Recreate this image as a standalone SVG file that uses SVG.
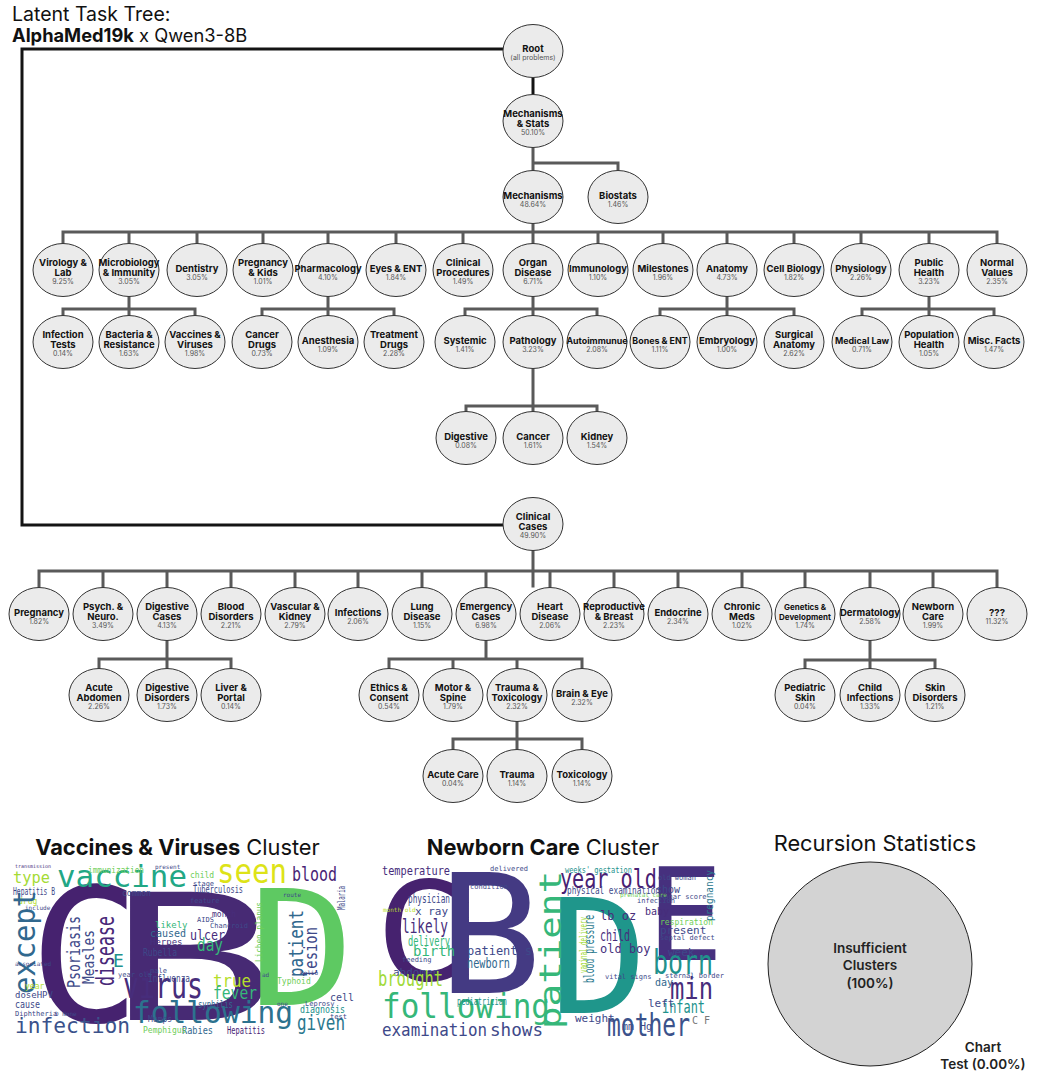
<svg xmlns="http://www.w3.org/2000/svg" width="1038" height="1077" viewBox="0 0 1038 1077">
<style>
.n ellipse{fill:#ebebeb;stroke:#333;stroke-width:1}
.n text{font-family:Inter,"Liberation Sans",sans-serif;text-anchor:middle}
.l{font-size:9.5px;font-weight:700;fill:#111}
.s{font-size:8px}
.t{font-size:8.9px}
.p{font-size:7px;font-weight:400;fill:#555}
.k{fill:none;stroke:#141414;stroke-width:3}
.c{fill:none;stroke:#5a5a5a;stroke-width:3}
.ttl{font-family:Inter,"Liberation Sans",sans-serif;fill:#111}
.w text{font-family:"DejaVu Sans Mono",monospace}
.pie text{font-family:Inter,"Liberation Sans",sans-serif;font-weight:600;font-size:13.5px;fill:#222;text-anchor:middle}
</style>
<rect width="1038" height="1077" fill="#fff"/>
<text class="ttl" x="12" y="21" font-size="19.5">Latent Task Tree:</text>
<text class="ttl" x="12" y="42" font-size="18.3"><tspan font-weight="700">AlphaMed19k</tspan> x Qwen3-8B</text>

<g id="connectors">
<path class="k" d="M503,49 H22 V525 H503"/>
<path class="k" d="M533,77.5 V94.5"/>
<path class="c" d="M533,147.5 V170.5 M533,163 H618 V170.5"/>
<path class="c" d="M533,223.5 V243.5 M63,243.5 V232 H997 V243.5 M129,232 V243.5 M197,232 V243.5 M263,232 V243.5 M328,232 V243.5 M396,232 V243.5 M463,232 V243.5 M598,232 V243.5 M663,232 V243.5 M727,232 V243.5 M794,232 V243.5 M861,232 V243.5 M929,232 V243.5"/>
<path class="c" d="M129,296.5 V315.5 M63,315.5 V309 H195 V315.5"/>
<path class="c" d="M328,296.5 V315.5 M262,315.5 V309 H394 V315.5"/>
<path class="c" d="M533,296.5 V315.5 M465,315.5 V309 H597 V315.5"/>
<path class="c" d="M727,296.5 V315.5 M660,315.5 V309 H794 V315.5"/>
<path class="c" d="M929,296.5 V315.5 M862,315.5 V309 H994 V315.5"/>
<path class="c" d="M533,368.5 V411.5 M466,411.5 V406 H597 V411.5"/>
<path class="c" d="M533,550.5 V587.5 M39,587.5 V571 H997 V587.5 M103,571 V587.5 M167,571 V587.5 M231,571 V587.5 M295,571 V587.5 M358,571 V587.5 M422,571 V587.5 M486,571 V587.5 M550,571 V587.5 M614,571 V587.5 M678,571 V587.5 M742,571 V587.5 M805,571 V587.5 M870,571 V587.5 M933,571 V587.5"/>
<path class="c" d="M167,640.5 V668.5 M99,668.5 V659 H231 V668.5"/>
<path class="c" d="M486,640.5 V659 M389,668.5 V659 H582 V668.5 M453,659 V668.5 M517,659 V668.5"/>
<path class="c" d="M870,640.5 V668.5 M805,668.5 V660 H935 V668.5"/>
<path class="c" d="M517,721.5 V749.5 M453,749.5 V739 H582 V749.5"/>
</g>

<g id="n-root" class="n"><ellipse cx="533" cy="51" rx="30" ry="26.5"/><text class="l" x="533" y="52">Root</text><text class="p" x="533" y="60">(all problems)</text></g>
<g id="n-mech-stats" class="n"><ellipse cx="533" cy="121" rx="30" ry="26.5"/><text class="l" x="533" y="117">Mechanisms</text><text class="l" x="533" y="127">&amp; Stats</text><text class="p" x="533" y="135">50.10%</text></g>
<g id="n-mechanisms" class="n"><ellipse cx="533" cy="197" rx="30" ry="26.5"/><text class="l" x="533" y="199">Mechanisms</text><text class="p" x="533" y="207">48.64%</text></g>
<g id="n-biostats" class="n"><ellipse cx="618" cy="197" rx="30" ry="26.5"/><text class="l" x="618" y="199">Biostats</text><text class="p" x="618" y="207">1.46%</text></g>

<g id="n-virology" class="n"><ellipse cx="63" cy="270" rx="30" ry="26.5"/><text class="l" x="63" y="266">Virology &amp;</text><text class="l" x="63" y="276">Lab</text><text class="p" x="63" y="284">9.25%</text></g>
<g id="n-microbiology" class="n"><ellipse cx="129" cy="270" rx="30" ry="26.5"/><text class="l" x="129" y="266">Microbiology</text><text class="l" x="129" y="276">&amp; Immunity</text><text class="p" x="129" y="284">3.05%</text></g>
<g id="n-dentistry" class="n"><ellipse cx="197" cy="270" rx="30" ry="26.5"/><text class="l" x="197" y="272">Dentistry</text><text class="p" x="197" y="280">3.05%</text></g>
<g id="n-pregnancy-kids" class="n"><ellipse cx="263" cy="270" rx="30" ry="26.5"/><text class="l" x="263" y="266">Pregnancy</text><text class="l" x="263" y="276">&amp; Kids</text><text class="p" x="263" y="284">1.01%</text></g>
<g id="n-pharmacology" class="n"><ellipse cx="328" cy="270" rx="30" ry="26.5"/><text class="l" x="328" y="272">Pharmacology</text><text class="p" x="328" y="280">4.10%</text></g>
<g id="n-eyes-ent" class="n"><ellipse cx="396" cy="270" rx="30" ry="26.5"/><text class="l" x="396" y="272">Eyes &amp; ENT</text><text class="p" x="396" y="280">1.84%</text></g>
<g id="n-clinical-procedures" class="n"><ellipse cx="463" cy="270" rx="30" ry="26.5"/><text class="l" x="463" y="266">Clinical</text><text class="l" x="463" y="276">Procedures</text><text class="p" x="463" y="284">1.49%</text></g>
<g id="n-organ-disease" class="n"><ellipse cx="533" cy="270" rx="30" ry="26.5"/><text class="l" x="533" y="266">Organ</text><text class="l" x="533" y="276">Disease</text><text class="p" x="533" y="284">6.71%</text></g>
<g id="n-immunology" class="n"><ellipse cx="598" cy="270" rx="30" ry="26.5"/><text class="l" x="598" y="272">Immunology</text><text class="p" x="598" y="280">1.10%</text></g>
<g id="n-milestones" class="n"><ellipse cx="663" cy="270" rx="30" ry="26.5"/><text class="l" x="663" y="272">Milestones</text><text class="p" x="663" y="280">1.96%</text></g>
<g id="n-anatomy" class="n"><ellipse cx="727" cy="270" rx="30" ry="26.5"/><text class="l" x="727" y="272">Anatomy</text><text class="p" x="727" y="280">4.73%</text></g>
<g id="n-cell-biology" class="n"><ellipse cx="794" cy="270" rx="30" ry="26.5"/><text class="l" x="794" y="272">Cell Biology</text><text class="p" x="794" y="280">1.82%</text></g>
<g id="n-physiology" class="n"><ellipse cx="861" cy="270" rx="30" ry="26.5"/><text class="l" x="861" y="272">Physiology</text><text class="p" x="861" y="280">2.26%</text></g>
<g id="n-public-health" class="n"><ellipse cx="929" cy="270" rx="30" ry="26.5"/><text class="l" x="929" y="266">Public</text><text class="l" x="929" y="276">Health</text><text class="p" x="929" y="284">3.23%</text></g>
<g id="n-normal-values" class="n"><ellipse cx="997" cy="270" rx="30" ry="26.5"/><text class="l" x="997" y="266">Normal</text><text class="l" x="997" y="276">Values</text><text class="p" x="997" y="284">2.35%</text></g>

<g id="n-infection-tests" class="n"><ellipse cx="63" cy="342" rx="30" ry="26.5"/><text class="l" x="63" y="338">Infection</text><text class="l" x="63" y="348">Tests</text><text class="p" x="63" y="356">0.14%</text></g>
<g id="n-bacteria" class="n"><ellipse cx="129" cy="342" rx="30" ry="26.5"/><text class="l" x="129" y="338">Bacteria &amp;</text><text class="l" x="129" y="348">Resistance</text><text class="p" x="129" y="356">1.63%</text></g>
<g id="n-vaccines" class="n"><ellipse cx="195" cy="342" rx="30" ry="26.5"/><text class="l" x="195" y="338">Vaccines &amp;</text><text class="l" x="195" y="348">Viruses</text><text class="p" x="195" y="356">1.98%</text></g>
<g id="n-cancer-drugs" class="n"><ellipse cx="262" cy="342" rx="30" ry="26.5"/><text class="l" x="262" y="338">Cancer</text><text class="l" x="262" y="348">Drugs</text><text class="p" x="262" y="356">0.73%</text></g>
<g id="n-anesthesia" class="n"><ellipse cx="328" cy="342" rx="30" ry="26.5"/><text class="l" x="328" y="344">Anesthesia</text><text class="p" x="328" y="352">1.09%</text></g>
<g id="n-treatment-drugs" class="n"><ellipse cx="394" cy="342" rx="30" ry="26.5"/><text class="l" x="394" y="338">Treatment</text><text class="l" x="394" y="348">Drugs</text><text class="p" x="394" y="356">2.28%</text></g>
<g id="n-systemic" class="n"><ellipse cx="465" cy="342" rx="30" ry="26.5"/><text class="l" x="465" y="344">Systemic</text><text class="p" x="465" y="352">1.41%</text></g>
<g id="n-pathology" class="n"><ellipse cx="533" cy="342" rx="30" ry="26.5"/><text class="l" x="533" y="344">Pathology</text><text class="p" x="533" y="352">3.23%</text></g>
<g id="n-autoimmune" class="n"><ellipse cx="597" cy="342" rx="30" ry="26.5"/><text class="l t" x="597" y="344">Autoimmunue</text><text class="p" x="597" y="352">2.08%</text></g>
<g id="n-bones-ent" class="n"><ellipse cx="660" cy="342" rx="30" ry="26.5"/><text class="l t" x="660" y="344">Bones &amp; ENT</text><text class="p" x="660" y="352">1.11%</text></g>
<g id="n-embryology" class="n"><ellipse cx="727" cy="342" rx="30" ry="26.5"/><text class="l" x="727" y="344">Embryology</text><text class="p" x="727" y="352">1.00%</text></g>
<g id="n-surgical-anatomy" class="n"><ellipse cx="794" cy="342" rx="30" ry="26.5"/><text class="l" x="794" y="338">Surgical</text><text class="l" x="794" y="348">Anatomy</text><text class="p" x="794" y="356">2.62%</text></g>
<g id="n-medical-law" class="n"><ellipse cx="862" cy="342" rx="30" ry="26.5"/><text class="l t" x="862" y="344">Medical Law</text><text class="p" x="862" y="352">0.71%</text></g>
<g id="n-population-health" class="n"><ellipse cx="929" cy="342" rx="30" ry="26.5"/><text class="l" x="929" y="338">Population</text><text class="l" x="929" y="348">Health</text><text class="p" x="929" y="356">1.05%</text></g>
<g id="n-misc-facts" class="n"><ellipse cx="994" cy="342" rx="30" ry="26.5"/><text class="l" x="994" y="344">Misc. Facts</text><text class="p" x="994" y="352">1.47%</text></g>

<g id="n-digestive" class="n"><ellipse cx="466" cy="438" rx="30" ry="26.5"/><text class="l" x="466" y="440">Digestive</text><text class="p" x="466" y="448">0.08%</text></g>
<g id="n-cancer" class="n"><ellipse cx="533" cy="438" rx="30" ry="26.5"/><text class="l" x="533" y="440">Cancer</text><text class="p" x="533" y="448">1.61%</text></g>
<g id="n-kidney" class="n"><ellipse cx="597" cy="438" rx="30" ry="26.5"/><text class="l" x="597" y="440">Kidney</text><text class="p" x="597" y="448">1.54%</text></g>

<g id="n-clinical-cases" class="n"><ellipse cx="533" cy="524" rx="30" ry="26.5"/><text class="l" x="533" y="520">Clinical</text><text class="l" x="533" y="530">Cases</text><text class="p" x="533" y="538">49.90%</text></g>

<g id="n-pregnancy" class="n"><ellipse cx="39" cy="614" rx="30" ry="26.5"/><text class="l" x="39" y="616">Pregnancy</text><text class="p" x="39" y="624">1.82%</text></g>
<g id="n-psych" class="n"><ellipse cx="103" cy="614" rx="30" ry="26.5"/><text class="l" x="103" y="610">Psych. &amp;</text><text class="l" x="103" y="620">Neuro.</text><text class="p" x="103" y="628">3.49%</text></g>
<g id="n-digestive-cases" class="n"><ellipse cx="167" cy="614" rx="30" ry="26.5"/><text class="l" x="167" y="610">Digestive</text><text class="l" x="167" y="620">Cases</text><text class="p" x="167" y="628">4.13%</text></g>
<g id="n-blood" class="n"><ellipse cx="231" cy="614" rx="30" ry="26.5"/><text class="l" x="231" y="610">Blood</text><text class="l" x="231" y="620">Disorders</text><text class="p" x="231" y="628">2.21%</text></g>
<g id="n-vascular" class="n"><ellipse cx="295" cy="614" rx="30" ry="26.5"/><text class="l" x="295" y="610">Vascular &amp;</text><text class="l" x="295" y="620">Kidney</text><text class="p" x="295" y="628">2.79%</text></g>
<g id="n-infections" class="n"><ellipse cx="358" cy="614" rx="30" ry="26.5"/><text class="l" x="358" y="616">Infections</text><text class="p" x="358" y="624">2.06%</text></g>
<g id="n-lung" class="n"><ellipse cx="422" cy="614" rx="30" ry="26.5"/><text class="l" x="422" y="610">Lung</text><text class="l" x="422" y="620">Disease</text><text class="p" x="422" y="628">1.15%</text></g>
<g id="n-emergency" class="n"><ellipse cx="486" cy="614" rx="30" ry="26.5"/><text class="l" x="486" y="610">Emergency</text><text class="l" x="486" y="620">Cases</text><text class="p" x="486" y="628">6.98%</text></g>
<g id="n-heart" class="n"><ellipse cx="550" cy="614" rx="30" ry="26.5"/><text class="l" x="550" y="610">Heart</text><text class="l" x="550" y="620">Disease</text><text class="p" x="550" y="628">2.06%</text></g>
<g id="n-reproductive" class="n"><ellipse cx="614" cy="614" rx="30" ry="26.5"/><text class="l" x="614" y="610">Reproductive</text><text class="l" x="614" y="620">&amp; Breast</text><text class="p" x="614" y="628">2.23%</text></g>
<g id="n-endocrine" class="n"><ellipse cx="678" cy="614" rx="30" ry="26.5"/><text class="l" x="678" y="616">Endocrine</text><text class="p" x="678" y="624">2.34%</text></g>
<g id="n-chronic" class="n"><ellipse cx="742" cy="614" rx="30" ry="26.5"/><text class="l" x="742" y="610">Chronic</text><text class="l" x="742" y="620">Meds</text><text class="p" x="742" y="628">1.02%</text></g>
<g id="n-genetics" class="n"><ellipse cx="805" cy="614" rx="30" ry="26.5"/><text class="l s" x="805" y="610">Genetics &amp;</text><text class="l s" x="805" y="619.5">Development</text><text class="p" x="805" y="628">1.74%</text></g>
<g id="n-dermatology" class="n"><ellipse cx="870" cy="614" rx="30" ry="26.5"/><text class="l" x="870" y="616">Dermatology</text><text class="p" x="870" y="624">2.58%</text></g>
<g id="n-newborn" class="n"><ellipse cx="933" cy="614" rx="30" ry="26.5"/><text class="l" x="933" y="610">Newborn</text><text class="l" x="933" y="620">Care</text><text class="p" x="933" y="628">1.99%</text></g>
<g id="n-unknown" class="n"><ellipse cx="997" cy="614" rx="30" ry="26.5"/><text class="l" x="997" y="616">???</text><text class="p" x="997" y="624">11.32%</text></g>

<g id="n-acute-abdomen" class="n"><ellipse cx="99" cy="695" rx="30" ry="26.5"/><text class="l" x="99" y="691">Acute</text><text class="l" x="99" y="701">Abdomen</text><text class="p" x="99" y="709">2.26%</text></g>
<g id="n-digestive-disorders" class="n"><ellipse cx="167" cy="695" rx="30" ry="26.5"/><text class="l" x="167" y="691">Digestive</text><text class="l" x="167" y="701">Disorders</text><text class="p" x="167" y="709">1.73%</text></g>
<g id="n-liver" class="n"><ellipse cx="231" cy="695" rx="30" ry="26.5"/><text class="l" x="231" y="691">Liver &amp;</text><text class="l" x="231" y="701">Portal</text><text class="p" x="231" y="709">0.14%</text></g>
<g id="n-ethics" class="n"><ellipse cx="389" cy="695" rx="30" ry="26.5"/><text class="l" x="389" y="691">Ethics &amp;</text><text class="l" x="389" y="701">Consent</text><text class="p" x="389" y="709">0.54%</text></g>
<g id="n-motor" class="n"><ellipse cx="453" cy="695" rx="30" ry="26.5"/><text class="l" x="453" y="691">Motor &amp;</text><text class="l" x="453" y="701">Spine</text><text class="p" x="453" y="709">1.79%</text></g>
<g id="n-trauma-tox" class="n"><ellipse cx="517" cy="695" rx="30" ry="26.5"/><text class="l" x="517" y="691">Trauma &amp;</text><text class="l" x="517" y="701">Toxicology</text><text class="p" x="517" y="709">2.32%</text></g>
<g id="n-brain-eye" class="n"><ellipse cx="582" cy="695" rx="30" ry="26.5"/><text class="l" x="582" y="697">Brain &amp; Eye</text><text class="p" x="582" y="705">2.32%</text></g>
<g id="n-pediatric-skin" class="n"><ellipse cx="805" cy="695" rx="30" ry="26.5"/><text class="l" x="805" y="691">Pediatric</text><text class="l" x="805" y="701">Skin</text><text class="p" x="805" y="709">0.04%</text></g>
<g id="n-child-infections" class="n"><ellipse cx="870" cy="695" rx="30" ry="26.5"/><text class="l" x="870" y="691">Child</text><text class="l" x="870" y="701">Infections</text><text class="p" x="870" y="709">1.33%</text></g>
<g id="n-skin-disorders" class="n"><ellipse cx="935" cy="695" rx="30" ry="26.5"/><text class="l" x="935" y="691">Skin</text><text class="l" x="935" y="701">Disorders</text><text class="p" x="935" y="709">1.21%</text></g>

<g id="n-acute-care" class="n"><ellipse cx="453" cy="776" rx="30" ry="26.5"/><text class="l" x="453" y="778">Acute Care</text><text class="p" x="453" y="786">0.04%</text></g>
<g id="n-trauma" class="n"><ellipse cx="517" cy="776" rx="30" ry="26.5"/><text class="l" x="517" y="778">Trauma</text><text class="p" x="517" y="786">1.14%</text></g>
<g id="n-toxicology" class="n"><ellipse cx="582" cy="776" rx="30" ry="26.5"/><text class="l" x="582" y="778">Toxicology</text><text class="p" x="582" y="786">1.14%</text></g>

<text class="ttl" x="177.5" y="855" font-size="21.8" text-anchor="middle"><tspan font-weight="700">Vaccines &amp; Viruses</tspan> Cluster</text>
<text class="ttl" x="543" y="855" font-size="21.8" text-anchor="middle"><tspan font-weight="700">Newborn Care</tspan> Cluster</text>
<text class="ttl" x="875" y="851" font-size="21.8" text-anchor="middle">Recursion Statistics</text>

<g id="cloud-vaccines" class="w">
<text x="85" y="1021" font-size="186" fill="#46226f" text-anchor="middle">C</text>
<text transform="translate(192,1020) scale(1.6,1)" font-size="176" fill="#472a74" text-anchor="middle">B</text>
<text transform="translate(301.5,1005) scale(1.1,1)" font-size="160" fill="#5ec962" text-anchor="middle">D</text>
<text x="57" y="887" font-size="30" fill="#22a785" textLength="130" lengthAdjust="spacingAndGlyphs">vaccine</text>
<text x="217" y="883" font-size="34" fill="#dde318" textLength="70" lengthAdjust="spacingAndGlyphs">seen</text>
<text x="292" y="881" font-size="19" fill="#482475" textLength="45" lengthAdjust="spacingAndGlyphs">blood</text>
<text x="13" y="883" font-size="15" fill="#a5db36" textLength="37" lengthAdjust="spacingAndGlyphs">type</text>
<text x="88" y="873" font-size="8" fill="#6ece58" textLength="56" lengthAdjust="spacingAndGlyphs">immunization</text>
<text x="15" y="868" font-size="5" fill="#46327e">transmission</text>
<text x="155" y="869" font-size="6" fill="#3e4989">present</text>
<text x="190" y="878" font-size="8" fill="#6ece58">child</text>
<text x="13" y="895" font-size="10" fill="#3e4989" textLength="42" lengthAdjust="spacingAndGlyphs">Hepatitis B</text>
<text x="18" y="904" font-size="8" fill="#b5de2b">drug</text>
<text x="25" y="910" font-size="6" fill="#3e4989">include</text>
<text transform="translate(35,994) rotate(-90)" font-size="30" fill="#31688e" textLength="104" lengthAdjust="spacingAndGlyphs">except</text>
<text transform="translate(80,988) rotate(-90)" font-size="17" fill="#3e4989" textLength="72" lengthAdjust="spacingAndGlyphs">Psoriasis</text>
<text transform="translate(94,984) rotate(-90)" font-size="16" fill="#3e4989" textLength="54" lengthAdjust="spacingAndGlyphs">Measles</text>
<text transform="translate(114,986) rotate(-90)" font-size="24" fill="#482878" textLength="70" lengthAdjust="spacingAndGlyphs">disease</text>
<text x="113" y="967" font-size="18" fill="#21918c">E</text>
<text x="123" y="998" font-size="36" fill="#472d7b" textLength="80" lengthAdjust="spacingAndGlyphs">virus</text>
<text x="133" y="1023" font-size="30" fill="#2c728e" textLength="160" lengthAdjust="spacingAndGlyphs">following</text>
<text x="15" y="1033" font-size="22" fill="#3b528b" textLength="115" lengthAdjust="spacingAndGlyphs">infection</text>
<text x="297" y="1030" font-size="22" fill="#2a788e" textLength="48" lengthAdjust="spacingAndGlyphs">given</text>
<text x="213" y="987" font-size="18" fill="#b5de2b" textLength="38" lengthAdjust="spacingAndGlyphs">true</text>
<text x="213" y="999" font-size="17" fill="#35b779" textLength="44" lengthAdjust="spacingAndGlyphs">fever</text>
<text x="197" y="951" font-size="18" fill="#35b779" textLength="26" lengthAdjust="spacingAndGlyphs">day</text>
<text x="190" y="940" font-size="14" fill="#472d7b" textLength="35" lengthAdjust="spacingAndGlyphs">ulcer</text>
<text x="197" y="922" font-size="7" fill="#3e4989">AIDS</text>
<text x="210" y="928" font-size="7" fill="#3e4989">Chancroid</text>
<text x="212" y="917" font-size="8" fill="#472d7b">month</text>
<text x="143" y="956" font-size="11" fill="#3e4989" textLength="34" lengthAdjust="spacingAndGlyphs">Rubella</text>
<text x="150" y="945" font-size="9" fill="#46327e">Herpes</text>
<text x="150" y="937" font-size="10" fill="#31688e">caused</text>
<text x="155" y="928" font-size="9" fill="#35b779">likely</text>
<text x="193" y="893" font-size="10" fill="#3e4989" textLength="50" lengthAdjust="spacingAndGlyphs">Tuberculosis</text>
<text x="193" y="886" font-size="7" fill="#3e4989">stage</text>
<text x="190" y="903" font-size="7" fill="#3e4989">feature</text>
<text x="122" y="896" font-size="8" fill="#3e4989">common</text>
<text transform="translate(262,962) rotate(-90)" font-size="9" fill="#6ece58" textLength="60" lengthAdjust="spacingAndGlyphs">Lichen planus</text>
<text transform="translate(303,977) rotate(-90)" font-size="20" fill="#31688e" textLength="67" lengthAdjust="spacingAndGlyphs">patient</text>
<text transform="translate(317,977) rotate(-90)" font-size="18" fill="#3e4989" textLength="50" lengthAdjust="spacingAndGlyphs">lesion</text>
<text transform="translate(345,910) rotate(-90)" font-size="11" fill="#3e4989" textLength="24" lengthAdjust="spacingAndGlyphs">Malaria</text>
<text x="330" y="1001" font-size="10" fill="#3e4989">cell</text>
<text x="300" y="1013" font-size="11" fill="#21918c" textLength="45" lengthAdjust="spacingAndGlyphs">diagnosis</text>
<text x="330" y="1019" font-size="7" fill="#3e4989">test</text>
<text x="182" y="1034" font-size="11" fill="#31688e" textLength="31" lengthAdjust="spacingAndGlyphs">Rabies</text>
<text x="227" y="1034" font-size="10" fill="#482475" textLength="38" lengthAdjust="spacingAndGlyphs">Hepatitis</text>
<text x="143" y="1033" font-size="8" fill="#6ece58">Pemphigus</text>
<text x="148" y="1022" font-size="8" fill="#3e4989">Mumps</text>
<text x="198" y="1008" font-size="11" fill="#31688e" textLength="35" lengthAdjust="spacingAndGlyphs">syphilis</text>
<text x="148" y="982" font-size="10" fill="#3e4989" textLength="42" lengthAdjust="spacingAndGlyphs">Influenza</text>
<text x="118" y="977" font-size="7" fill="#3e4989">year old</text>
<text x="150" y="973" font-size="7" fill="#3e4989">male</text>
<text x="15" y="1008" font-size="11" fill="#3e4989" textLength="25" lengthAdjust="spacingAndGlyphs">cause</text>
<text x="15" y="998" font-size="9" fill="#3e4989">doseHPV</text>
<text x="25" y="989" font-size="8" fill="#b5de2b">year</text>
<text x="15" y="1016" font-size="7" fill="#3e4989">Diphtheria</text>
<text x="55" y="1016" font-size="6" fill="#3e4989">D None</text>
<text x="15" y="966" font-size="6" fill="#3e4989">associated</text>
<text x="277" y="984" font-size="8" fill="#6ece58">Typhoid</text>
<text x="305" y="1006" font-size="7" fill="#3e4989">Leprosy</text>
<text x="283" y="897" font-size="6" fill="#3e4989">route</text>
<text x="300" y="975" font-size="6" fill="#3e4989">Polio</text>
<text x="262" y="977" font-size="6" fill="#3e4989">ad</text>
<text x="277" y="1006" font-size="6" fill="#3e4989">one</text>
</g>

<g id="cloud-newborn" class="w">
<text transform="translate(420,980) scale(1.08,1)" font-size="137" fill="#46226f" text-anchor="middle">C</text>
<text transform="translate(490,993) scale(1.05,1)" font-size="165" fill="#443a83" text-anchor="middle">B</text>
<text transform="translate(598.5,1013) scale(1.03,1)" font-size="159" fill="#1f968b" text-anchor="middle">D</text>
<text x="685" y="960" font-size="128" fill="#46307e" text-anchor="middle">E</text>
<text x="382" y="875" font-size="13" fill="#472d7b" textLength="68" lengthAdjust="spacingAndGlyphs">temperature</text>
<text x="560" y="888" font-size="26" fill="#482173" textLength="97" lengthAdjust="spacingAndGlyphs">year old</text>
<text x="565" y="873" font-size="9" fill="#21918c" textLength="67" lengthAdjust="spacingAndGlyphs">weeks' gestation</text>
<text x="567" y="894" font-size="10" fill="#3e4989" textLength="93" lengthAdjust="spacingAndGlyphs">physical examination</text>
<text transform="translate(561,1029) rotate(-90)" font-size="30" fill="#35b779" textLength="158" lengthAdjust="spacingAndGlyphs">patient</text>
<text transform="translate(713,921) rotate(-90)" font-size="11" fill="#2a788e" textLength="51" lengthAdjust="spacingAndGlyphs">pregnancy</text>
<text x="656" y="893" font-size="10" fill="#3e4989">show</text>
<text x="658" y="880" font-size="7" fill="#3e4989">old woman</text>
<text x="660" y="899" font-size="7" fill="#3e4989">Apgar score</text>
<text x="408" y="903" font-size="12" fill="#3e4989" textLength="42" lengthAdjust="spacingAndGlyphs">physician</text>
<text x="415" y="915" font-size="11" fill="#3e4989">x ray</text>
<text x="383" y="912" font-size="6" fill="#b5de2b">month old</text>
<text x="402" y="933" font-size="20" fill="#472d7b" textLength="46" lengthAdjust="spacingAndGlyphs">likely</text>
<text x="408" y="946" font-size="14" fill="#35b779" textLength="42" lengthAdjust="spacingAndGlyphs">delivery</text>
<text x="413" y="956" font-size="14" fill="#35b779">birth</text>
<text x="467" y="968" font-size="14" fill="#31688e" textLength="43" lengthAdjust="spacingAndGlyphs">newborn</text>
<text x="467" y="955" font-size="12" fill="#3e4989">patient s</text>
<text x="393" y="976" font-size="11" fill="#3e4989">abdomen</text>
<text x="378" y="986" font-size="22" fill="#a0da39" textLength="65" lengthAdjust="spacingAndGlyphs">brought</text>
<text x="382" y="1018" font-size="34" fill="#35b779" textLength="168" lengthAdjust="spacingAndGlyphs">following</text>
<text x="382" y="1036" font-size="18" fill="#3e4989" textLength="105" lengthAdjust="spacingAndGlyphs">examination</text>
<text x="490" y="1036" font-size="18" fill="#3e4989" textLength="53" lengthAdjust="spacingAndGlyphs">shows</text>
<text x="457" y="1005" font-size="11" fill="#21918c" textLength="50" lengthAdjust="spacingAndGlyphs">pediatrician</text>
<text transform="translate(594,983) rotate(-90)" font-size="14" fill="#2a788e" textLength="68" lengthAdjust="spacingAndGlyphs">blood pressure</text>
<text transform="translate(587,973) rotate(-90)" font-size="10" fill="#a0da39" textLength="56" lengthAdjust="spacingAndGlyphs">vaginal delivery</text>
<text x="600" y="920" font-size="12" fill="#472d7b">lb oz</text>
<text x="600" y="941" font-size="16" fill="#472d7b" textLength="30" lengthAdjust="spacingAndGlyphs">child</text>
<text x="600" y="953" font-size="12" fill="#46307e">old boy</text>
<text x="605" y="979" font-size="7" fill="#3e4989">vital signs</text>
<text x="575" y="1022" font-size="11" fill="#3e4989">weight</text>
<text x="622" y="1030" font-size="10" fill="#3e4989">mm Hg</text>
<text x="607" y="1036" font-size="32" fill="#3b528b" textLength="83" lengthAdjust="spacingAndGlyphs">mother</text>
<text x="653" y="974" font-size="34" fill="#21918c" textLength="60" lengthAdjust="spacingAndGlyphs">born</text>
<text x="670" y="999" font-size="30" fill="#472d7b" textLength="43" lengthAdjust="spacingAndGlyphs">min</text>
<text x="662" y="1013" font-size="18" fill="#21918c" textLength="43" lengthAdjust="spacingAndGlyphs">infant</text>
<text x="668" y="956" font-size="11" fill="#3e4989">week</text>
<text x="660" y="934" font-size="11" fill="#3e4989">present</text>
<text x="660" y="925" font-size="8" fill="#6ece58">respiration</text>
<text x="660" y="940" font-size="7" fill="#3e4989">septal defect</text>
<text x="655" y="986" font-size="10" fill="#31688e">day</text>
<text x="648" y="1007" font-size="11" fill="#3e4989">left</text>
<text x="665" y="978" font-size="7" fill="#3e4989">sternal border</text>
<text x="645" y="915" font-size="10" fill="#472d7b">baby</text>
<text x="637" y="903" font-size="7" fill="#3e4989">infection</text>
<text x="620" y="897" font-size="6" fill="#6ece58">prenatal care</text>
<text x="402" y="962" font-size="7" fill="#3e4989">feeding</text>
<text x="470" y="889" font-size="7" fill="#3e4989">condition</text>
<text x="490" y="871" font-size="7" fill="#3e4989">delivered</text>
<text x="692" y="1024" font-size="10" fill="#777">C F</text>
</g>

<g id="pie" class="pie">
<circle cx="870" cy="964" r="102" fill="#d3d3d3" stroke="#222" stroke-width="1"/>
<text x="870" y="953">Insufficient</text>
<text x="870" y="970">Clusters</text>
<text x="870" y="988">(100%)</text>
<text x="983" y="1052">Chart</text>
<text x="983" y="1069">Test (0.00%)</text>
</g>
</svg>
